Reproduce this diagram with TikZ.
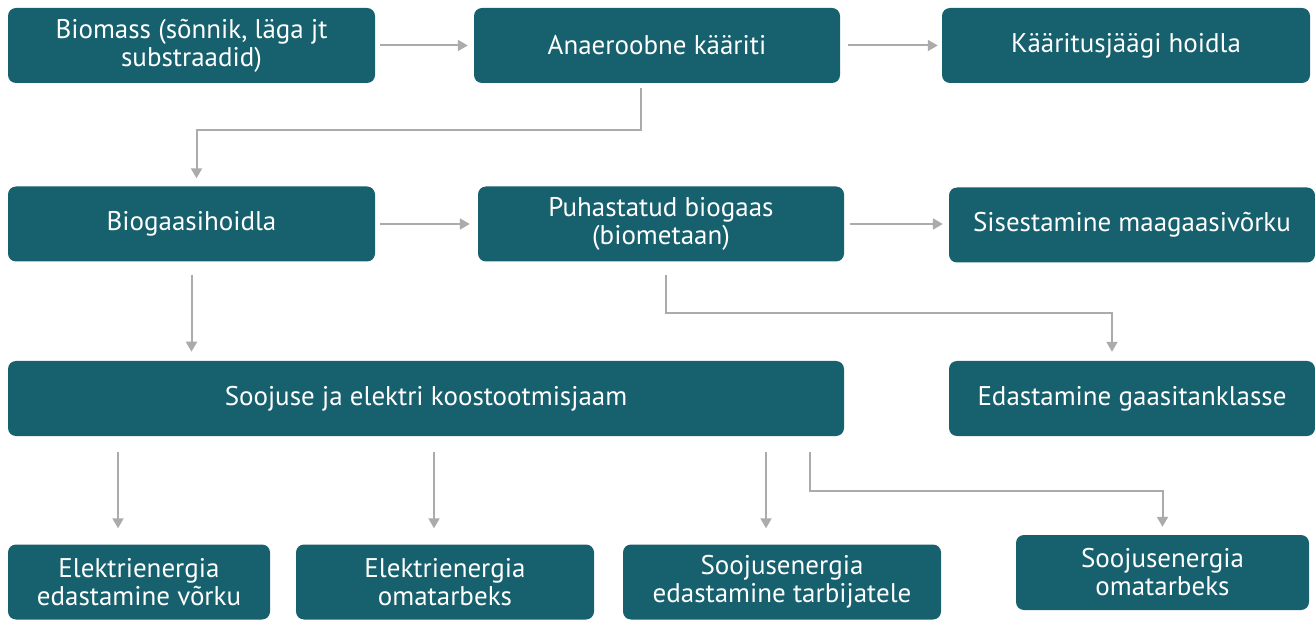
\documentclass[tikz,border=0pt]{standalone}
\usepackage{fontspec}
\setmainfont{PT Sans}
\usetikzlibrary{arrows.meta}
\definecolor{boxteal}{HTML}{17606D}
\definecolor{linegray}{HTML}{ABABAB}

\tikzstyle{box} = [rounded corners=8pt, fill=boxteal, text=white, align=center, inner sep=0pt, minimum height=75pt, font=\fontsize{27}{28}\selectfont]
\tikzstyle{flow} = [draw=linegray, line width=2pt, -{Triangle[width=11pt,length=10pt]}]

\begin{document}
\begin{tikzpicture}[x=1pt,y=-1pt]
\useasboundingbox (0,0) rectangle (1315,620);
% top row
\node [box, minimum width=367pt] (biomass) at (191.5,45.5) {Biomass (sõnnik, läga jt\\substraadid)};
\node [box, minimum width=366pt] (kaariti) at (657,45.5) {Anaeroobne kääriti};
\node [box, minimum width=368pt] (jaak) at (1126,45.5) {Kääritusjäägi hoidla};
% second row
\node [box, minimum width=367pt] (hoidla) at (191.5,224) {Biogaasihoidla};
\node [box, minimum width=366pt] (biometaan) at (661,224) {Puhastatud biogaas\\(biometaan)};
\node [box, minimum width=366pt] (vork) at (1132,225) {Sisestamine maagaasivõrku};
% third row
\node [box, minimum width=836pt] (jaam) at (426,398.5) {Soojuse ja elektri koostootmisjaam};
\node [box, minimum width=366pt] (tankla) at (1132,398.5) {Edastamine gaasitanklasse};
% bottom row
\node [box, minimum width=262pt] (el1) at (139,582) {Elektrienergia\\edastamine võrku};
\node [box, minimum width=298pt] (el2) at (445,582) {Elektrienergia\\omatarbeks};
\node [box, minimum width=318pt] (sj1) at (782,582) {Soojusenergia\\edastamine tarbijatele};
\node [box, minimum width=293pt] (sj2) at (1162.5,572.5) {Soojusenergia\\omatarbeks};

\draw [flow] ([xshift=5pt]biomass.east) -- ([xshift=-6pt]kaariti.west);
\draw [flow] ([xshift=8pt]kaariti.east) -- ([xshift=-4pt]jaak.west);
\draw [flow] ([xshift=-16pt,yshift=-5pt]kaariti.south) |- ([xshift=5pt,yshift=56pt]hoidla.north) -- ([xshift=5pt,yshift=8pt]hoidla.north);
\draw [flow] ([xshift=5pt]hoidla.east) -- ([xshift=-8pt]biometaan.west);
\draw [flow] ([xshift=6pt]biometaan.east) -- ([xshift=-6pt,yshift=1pt]vork.west);
\draw [flow] ([xshift=5pt,yshift=-13pt]biometaan.south) |- ([xshift=-20pt,yshift=48pt]tankla.north) -- ([xshift=-20pt,yshift=9pt]tankla.north);
\draw [flow] ([yshift=-13pt]hoidla.south) -- ([yshift=-90pt]hoidla.south);
\draw [flow] ([xshift=-21pt,yshift=92pt]el1.north) -- ([xshift=-21pt,yshift=16pt]el1.north);
\draw [flow] ([xshift=-11pt,yshift=92pt]el2.north) -- ([xshift=-11pt,yshift=16pt]el2.north);
\draw [flow] ([xshift=-16pt,yshift=92pt]sj1.north) -- ([xshift=-16pt,yshift=16pt]sj1.north);
\draw [flow] ([xshift=-34pt,yshift=-16pt]jaam.south east) |- ([yshift=44pt]sj2.north) -- ([yshift=8pt]sj2.north);
\end{tikzpicture}
\end{document}
